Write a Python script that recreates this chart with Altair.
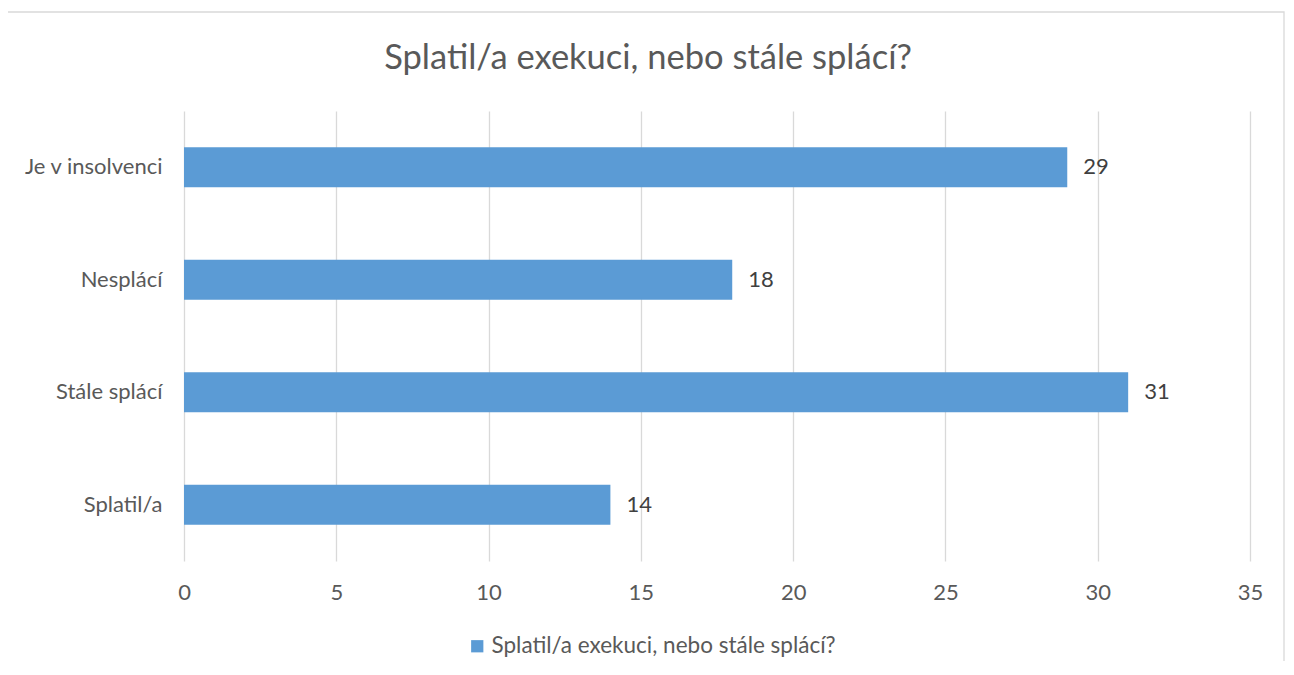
import altair as alt
import pandas as pd

categories = ["Je v insolvenci", "Nesplácí", "Stále splácí", "Splatil/a"]
values = [29, 18, 31, 14]
series_name = "Splatil/a exekuci, nebo stále splácí?"
chart_title = "Splatil/a exekuci, nebo stále splácí?"
x_ticks = [0, 5, 10, 15, 20, 25, 30, 35]

df = pd.DataFrame({"kategorie": categories, "pocet": values, "serie": [series_name] * len(categories)})

FONT = "Lato"
TXT = "#595959"
FS = 22

base = alt.Chart(df)

bars = base.mark_bar(color="#5B9BD5").encode(
    x=alt.X("pocet:Q", scale=alt.Scale(domain=[0, 35], nice=False),
            axis=alt.Axis(values=x_ticks, title=None, domain=False, ticks=False,
                          grid=True, gridColor="#D9D9D9", gridWidth=1.3, labelFlush=False,
                          labelFont=FONT, labelFontSize=FS, labelColor=TXT, labelPadding=21)),
    y=alt.Y("kategorie:N", sort=categories,
            scale=alt.Scale(paddingInner=0.645, paddingOuter=0.3225),
            axis=alt.Axis(title=None, domain=False, ticks=False, grid=False,
                          labelFont=FONT, labelFontSize=FS, labelColor=TXT, labelPadding=22)),
    color=alt.Color("serie:N", scale=alt.Scale(range=["#5B9BD5"]),
                    legend=alt.Legend(title=None, orient="none", legendX=282, legendY=524,
                                      symbolType="square", symbolSize=150, symbolStrokeWidth=0,
                                      labelFont=FONT, labelFontSize=22.5, labelColor=TXT,
                                      labelLimit=1000, padding=0, labelOffset=3)),
)

labels = base.mark_text(align="left", baseline="middle", dx=16, font=FONT, fontSize=FS, color="#404040").encode(
    x="pocet:Q",
    y=alt.Y("kategorie:N", sort=categories),
    text="pocet:Q",
)

title_df = pd.DataFrame({"t": [chart_title]})
title = alt.Chart(title_df).mark_text(
    align="center", baseline="alphabetic", font=FONT, fontSize=34.5, color=TXT
).encode(x=alt.value(464), y=alt.value(-42), text="t:N")

border = alt.Chart(pd.DataFrame({"a": [0]})).mark_rect(
    fill=None, stroke="#D9D9D9", strokeWidth=1.3, clip=False
).encode(x=alt.value(-177), x2=alt.value(1100), y=alt.value(-99), y2=alt.value(575))

chart = alt.layer(border, bars, labels, title).properties(
    width=1066, height=450,
    autosize=alt.AutoSizeParams(type="none"),
    padding={"left": 176, "top": 103, "right": 36, "bottom": 100},
).configure_view(stroke=None)

chart.save("out.html", embed_options={"renderer": "svg", "actions": False})
